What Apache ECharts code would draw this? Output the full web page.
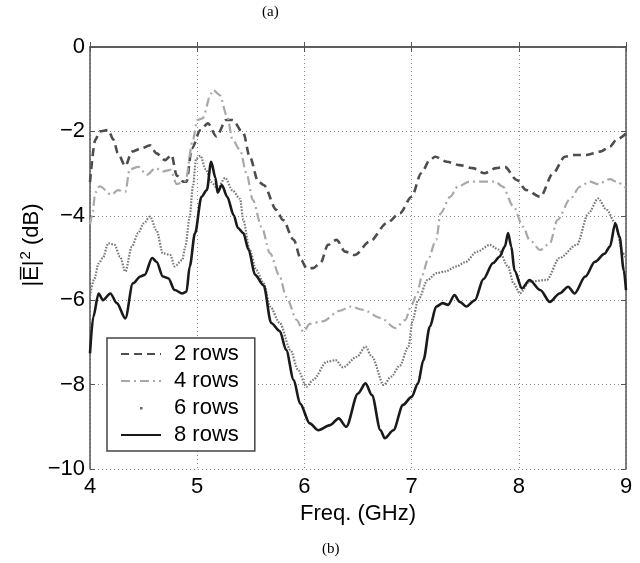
<!DOCTYPE html>
<html>
<head>
<meta charset="utf-8">
<script src="https://cdn.jsdelivr.net/npm/echarts@6/dist/echarts.min.js"></script>
<style>
html,body{margin:0;padding:0;background:#fff;}
#c{width:640px;height:563px;}
</style>
</head>
<body>
<div id="c"></div>
<script>
const seriesNames = ['2 rows', '4 rows', '6 rows', '8 rows'];
const xTicks = [4, 5, 6, 7, 8, 9];
const yTicks = [-10, -8, -6, -4, -2, 0];

const rows2 = [[4.00,-3.2],[4.05,-2.2],[4.09,-2.0],[4.17,-1.97],[4.22,-2.2],[4.26,-2.52],[4.33,-2.82],[4.39,-2.48],[4.48,-2.4],[4.56,-2.33],[4.62,-2.52],[4.70,-2.68],[4.76,-2.56],[4.81,-3.05],[4.87,-3.19],[4.90,-3.19],[4.95,-2.4],[5.03,-1.97],[5.10,-1.81],[5.18,-2.12],[5.27,-1.73],[5.33,-1.73],[5.43,-2.04],[5.49,-2.6],[5.57,-3.19],[5.62,-3.27],[5.74,-3.86],[5.80,-4.1],[5.90,-4.57],[5.97,-5.05],[6.02,-5.24],[6.08,-5.24],[6.15,-5.12],[6.22,-4.69],[6.30,-4.57],[6.38,-4.85],[6.47,-4.93],[6.61,-4.61],[6.77,-4.17],[6.89,-3.94],[7.00,-3.55],[7.09,-2.99],[7.17,-2.68],[7.22,-2.6],[7.33,-2.72],[7.45,-2.8],[7.57,-2.87],[7.68,-2.99],[7.79,-2.87],[7.87,-2.84],[7.98,-3.15],[8.07,-3.39],[8.20,-3.55],[8.32,-2.99],[8.43,-2.6],[8.52,-2.56],[8.63,-2.56],[8.76,-2.48],[8.85,-2.36],[8.91,-2.2],[9.00,-2.05]];

const rows4 = [[4.00,-4.2],[4.02,-4.0],[4.05,-3.45],[4.09,-3.3],[4.20,-3.5],[4.26,-3.39],[4.33,-3.43],[4.37,-2.9],[4.45,-2.84],[4.53,-3.03],[4.61,-2.87],[4.68,-2.95],[4.75,-2.91],[4.81,-3.25],[4.89,-3.17],[4.96,-2.2],[5.00,-1.73],[5.05,-1.69],[5.13,-1.1],[5.15,-1.02],[5.21,-1.14],[5.28,-1.65],[5.33,-2.2],[5.40,-2.44],[5.46,-3.0],[5.52,-3.63],[5.60,-4.26],[5.68,-4.89],[5.77,-5.44],[5.83,-5.92],[5.93,-6.47],[5.99,-6.75],[6.05,-6.56],[6.17,-6.5],[6.33,-6.25],[6.43,-6.15],[6.55,-6.23],[6.71,-6.42],[6.85,-6.66],[6.94,-6.47],[7.00,-6.11],[7.05,-5.85],[7.10,-5.4],[7.15,-5.05],[7.23,-4.57],[7.27,-3.94],[7.36,-3.55],[7.43,-3.31],[7.54,-3.19],[7.67,-3.19],[7.78,-3.19],[7.85,-3.31],[7.95,-3.78],[8.04,-4.26],[8.10,-4.57],[8.20,-4.81],[8.29,-4.65],[8.36,-4.1],[8.48,-3.6],[8.57,-3.31],[8.66,-3.19],[8.74,-3.25],[8.85,-3.13],[8.91,-3.19],[9.00,-3.35]];

const rows6 = [[4.00,-5.9],[4.04,-5.5],[4.08,-5.13],[4.12,-5.0],[4.17,-4.65],[4.23,-4.69],[4.28,-4.97],[4.33,-5.32],[4.39,-4.73],[4.45,-4.41],[4.50,-4.18],[4.56,-4.02],[4.62,-4.34],[4.68,-4.89],[4.75,-4.93],[4.79,-5.2],[4.86,-5.05],[4.89,-4.73],[4.93,-4.02],[4.96,-3.3],[4.99,-2.65],[5.03,-2.58],[5.08,-2.9],[5.13,-3.2],[5.19,-3.35],[5.26,-3.1],[5.33,-3.4],[5.40,-3.6],[5.43,-4.1],[5.49,-4.81],[5.55,-5.28],[5.62,-5.6],[5.68,-6.15],[5.77,-6.54],[5.87,-7.18],[5.94,-7.65],[6.02,-8.05],[6.08,-7.89],[6.21,-7.46],[6.29,-7.42],[6.36,-7.59],[6.49,-7.34],[6.57,-7.1],[6.63,-7.34],[6.74,-8.01],[6.81,-7.81],[6.89,-7.55],[6.97,-7.1],[7.01,-6.47],[7.06,-6.0],[7.15,-5.52],[7.23,-5.36],[7.31,-5.32],[7.42,-5.2],[7.50,-5.1],[7.61,-4.85],[7.73,-4.69],[7.81,-4.8],[7.90,-5.2],[7.95,-5.6],[8.01,-5.84],[8.10,-5.56],[8.26,-5.52],[8.38,-5.0],[8.54,-4.69],[8.65,-3.94],[8.74,-3.59],[8.82,-3.86],[8.90,-4.17],[8.97,-4.89],[9.00,-5.0]];

const rows8 = [[4.00,-7.26],[4.03,-6.4],[4.08,-5.84],[4.12,-6.0],[4.19,-5.84],[4.25,-6.07],[4.33,-6.43],[4.40,-5.6],[4.47,-5.44],[4.51,-5.4],[4.58,-5.0],[4.62,-5.09],[4.68,-5.44],[4.73,-5.48],[4.79,-5.76],[4.86,-5.84],[4.90,-5.8],[4.93,-5.2],[4.98,-4.41],[5.04,-3.55],[5.09,-3.39],[5.13,-2.72],[5.17,-3.1],[5.19,-3.45],[5.23,-3.27],[5.28,-3.55],[5.34,-3.98],[5.38,-4.29],[5.43,-4.41],[5.48,-4.81],[5.54,-5.4],[5.62,-5.65],[5.69,-6.54],[5.77,-6.73],[5.83,-7.18],[5.90,-7.89],[5.96,-8.45],[6.05,-8.92],[6.13,-9.08],[6.24,-8.96],[6.32,-8.80],[6.39,-9.0],[6.50,-8.21],[6.57,-7.97],[6.63,-8.25],[6.71,-9.08],[6.75,-9.27],[6.83,-9.08],[6.92,-8.48],[7.00,-8.29],[7.06,-7.97],[7.11,-7.42],[7.17,-6.63],[7.23,-6.15],[7.29,-6.07],[7.34,-6.11],[7.40,-5.88],[7.45,-6.04],[7.51,-6.15],[7.59,-6.0],[7.67,-5.5],[7.76,-5.12],[7.82,-4.97],[7.87,-4.73],[7.90,-4.41],[7.93,-4.73],[7.96,-5.3],[8.03,-5.72],[8.10,-5.52],[8.20,-5.76],[8.29,-6.04],[8.38,-5.84],[8.46,-5.68],[8.52,-5.84],[8.62,-5.44],[8.71,-5.09],[8.80,-4.9],[8.85,-4.73],[8.90,-4.18],[8.94,-4.5],[8.98,-5.3],[9.00,-5.76]];

const chart = echarts.init(document.getElementById('c'), null, {renderer: 'canvas'});
const FONT = 'Liberation Sans, Arial, Helvetica, sans-serif';
const minus = v => String(v).replace('-', '\u2212');

const gridLine = {show: true, lineStyle: {color: '#8a8a8a', width: 1, type: [1, 3]}};
const frame = {show: true, lineStyle: {color: '#555', width: 1.5}};

function mkSeries(name, data, color, width, type) {
  return {
    name: name, type: 'line', data: data, xAxisIndex: 0, yAxisIndex: 0,
    symbol: 'none', smooth: 0.3, smoothMonotone: 'x', clip: true,
    lineStyle: {color: color, width: width, type: type, cap: 'butt'},
    itemStyle: {color: color},
    emphasis: {disabled: true}
  };
}

chart.setOption({
  animation: false,
  backgroundColor: '#fff',
  grid: {left: 90, right: 14, top: 47, bottom: 94, show: false},
  xAxis: [
    {type: 'value', min: xTicks[0], max: xTicks[xTicks.length-1], interval: 1, position: 'bottom',
     name: 'Freq. (GHz)', nameLocation: 'middle', nameGap: 32,
     nameTextStyle: {fontFamily: FONT, fontSize: 22, color: '#000'},
     axisLine: frame, axisTick: {show: true, inside: true, length: 5, lineStyle: {color: '#555'}},
     axisLabel: {fontFamily: FONT, fontSize: 22, color: '#000', margin: 7},
     splitLine: gridLine},
    {type: 'value', min: xTicks[0], max: xTicks[xTicks.length-1], interval: 1, position: 'top',
     axisLine: frame, axisTick: {show: true, inside: true, length: 5, lineStyle: {color: '#555'}},
     axisLabel: {show: false}, splitLine: {show: false}}
  ],
  yAxis: [
    {type: 'value', min: yTicks[0], max: yTicks[yTicks.length-1], interval: 2, position: 'left',
     axisLine: frame, axisTick: {show: true, inside: true, length: 5, lineStyle: {color: '#555'}},
     axisLabel: {fontFamily: FONT, fontSize: 22, color: '#000', margin: 5, formatter: minus},
     splitLine: gridLine},
    {type: 'value', min: yTicks[0], max: yTicks[yTicks.length-1], interval: 2, position: 'right',
     axisLine: frame, axisTick: {show: true, inside: true, length: 5, lineStyle: {color: '#555'}},
     axisLabel: {show: false}, splitLine: {show: false}}
  ],
  legend: {
    orient: 'vertical', left: 107, top: 338,
    padding: [5, 16, 5, 13], itemGap: 5, itemWidth: 40, itemHeight: 14,
    backgroundColor: '#fff', borderColor: '#444', borderWidth: 1.5, borderRadius: 0,
    selectedMode: false,
    itemStyle: {opacity: 0},
    textStyle: {fontFamily: FONT, fontSize: 22, color: '#000', lineHeight: 22, padding: [0, 0, 0, 8]},
    data: [
      {name: seriesNames[0]},
      {name: seriesNames[1]},
      {name: seriesNames[2], icon: 'path://M0,0 M40,14 M19,6 L21.5,6 L21.5,8.5 L19,8.5 Z', itemStyle: {color: '#666', borderWidth: 0, opacity: 1}},
      {name: seriesNames[3]}
    ]
  },
  graphic: [
    {type: 'text', left: 262, top: 5, style: {text: '(a)', font: '15px "Liberation Serif", "Times New Roman", serif', fill: '#000'}},
    {type: 'text', left: 322, top: 542, style: {text: '(b)', font: '15px "Liberation Serif", "Times New Roman", serif', fill: '#000'}},
    {type: 'text', x: 32, y: 245, rotation: Math.PI / 2,
     style: {
       text: '{a||E\u0305|}{s|2}{a| (dB)}',
       align: 'center', verticalAlign: 'middle', fill: '#000',
       rich: {
         a: {fontFamily: FONT, fontSize: 22, lineHeight: 26, fill: '#000'},
         s: {fontFamily: FONT, fontSize: 15, lineHeight: 26, fill: '#000', padding: [0, 0, 12, 1]}
       }
     }}
  ],
  series: [
    mkSeries(seriesNames[0], rows2, '#4d4d4d', 2.6, [8, 5]),
    mkSeries(seriesNames[1], rows4, '#a8a8a8', 2.2, [9, 4, 2, 4]),
    mkSeries(seriesNames[2], rows6, '#7a7a7a', 2.2, [1.6, 1.4]),
    mkSeries(seriesNames[3], rows8, '#1a1a1a', 2.6, 'solid')
  ]
});
</script>
</body>
</html>
